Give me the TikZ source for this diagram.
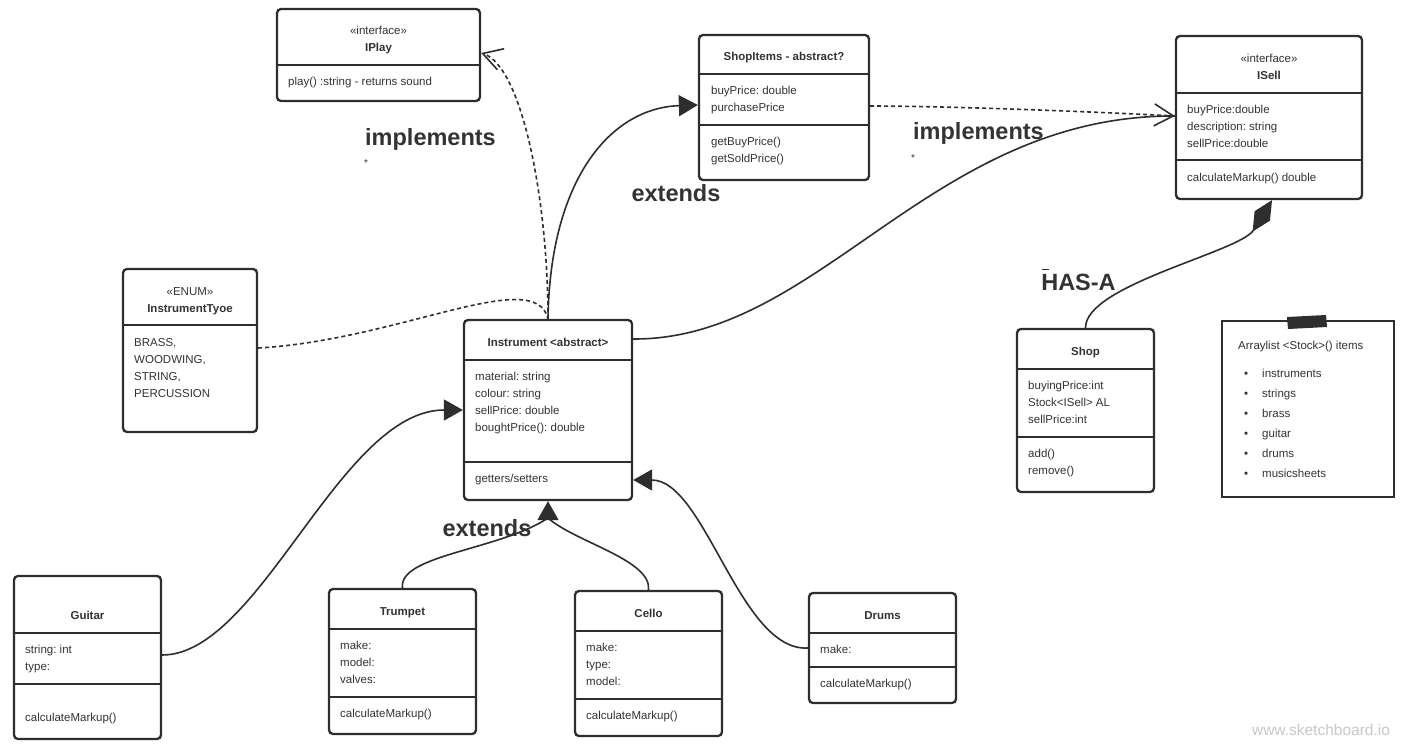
\documentclass[tikz,border=0pt]{standalone}
\usepackage{fontspec}
\setmainfont{Liberation Sans}
\usetikzlibrary{arrows.meta,calc}
\definecolor{ink}{HTML}{2E2E2E}
\definecolor{txtc}{HTML}{333333}
\definecolor{wm}{HTML}{C8C8C8}
\frenchspacing
\tikzset{
  umlbox/.style={draw=ink, line width=2.3pt, rounded corners=4pt, inner sep=0pt},
  notebox/.style={draw=ink, line width=2.3pt, inner sep=0pt},
  divline/.style={draw=ink, line width=1.8pt},
  txt/.style={anchor=base west, inner sep=0pt, text=txtc, font=\fontsize{11.5}{14}\selectfont},
  ttl/.style={anchor=base, inner sep=0pt, text=txtc, font=\bfseries\fontsize{11.5}{14}\selectfont},
  stereo/.style={anchor=base, inner sep=0pt, text=txtc, font=\fontsize{11.5}{14}\selectfont},
  biglbl/.style={anchor=base, inner sep=0pt, text=txtc, font=\bfseries\fontsize{23.5}{28}\selectfont},
  star/.style={anchor=base west, inner sep=0pt, text=txtc, font=\fontsize{10}{12}\selectfont},
  conn/.style={draw=ink, line width=1.6pt},
  dashconn/.style={conn, dash pattern=on 4pt off 3pt},
  gen/.style={-{Triangle[length=19pt,width=21pt]}},
  real/.style={-{Straight Barb[length=19pt,width=22pt,line width=1.6pt]}},
  comp/.style={-{Diamond[length=37pt,width=18pt]}},
}
\begin{document}
\begin{tikzpicture}[x=1pt,y=-1pt]
\useasboundingbox (0,0) rectangle (1408,750);
\fill[white] (0,0) rectangle (1408,750);

% ---------- IPlay ----------
\node[umlbox, minimum width=203pt, minimum height=92pt] (iplay) at (378.5,55) {};
\draw[divline] (iplay.west |- 0,65) -- (iplay.east |- 0,65);
\node[stereo] (iplayS) at (378.5,34) {«interface»};
\node[ttl] (iplayT) at (378.5,51) {IPlay};
\node[txt] (iplay1) at (288,85) {play() :string - returns sound};

% ---------- ShopItems ----------
\node[umlbox, minimum width=170pt, minimum height=145pt] (sitems) at (784,107.5) {};
\draw[divline] (sitems.west |- 0,74) -- (sitems.east |- 0,74);
\draw[divline] (sitems.west |- 0,125) -- (sitems.east |- 0,125);
\node[ttl] (sitemsT) at (784,60) {ShopItems - abstract?};
\node[txt] (si1) at (711,94) {buyPrice: double};
\node[txt] (si2) at (711,111) {purchasePrice};
\node[txt] (si3) at (711,145) {getBuyPrice()};
\node[txt] (si4) at (711,162) {getSoldPrice()};

% ---------- ISell ----------
\node[umlbox, minimum width=186pt, minimum height=163pt] (isell) at (1269,117.5) {};
\draw[divline] (isell.west |- 0,93) -- (isell.east |- 0,93);
\draw[divline] (isell.west |- 0,160) -- (isell.east |- 0,160);
\node[stereo] (isellS) at (1269,62) {«interface»};
\node[ttl] (isellT) at (1269,79) {ISell};
\node[txt] (is1) at (1187,113) {buyPrice:double};
\node[txt] (is2) at (1187,130) {description: string};
\node[txt] (is3) at (1187,147) {sellPrice:double};
\node[txt] (is4) at (1187,181) {calculateMarkup() double};

% ---------- InstrumentTyoe ----------
\node[umlbox, minimum width=134pt, minimum height=163pt] (enum) at (190,350.5) {};
\draw[divline] (enum.west |- 0,325) -- (enum.east |- 0,325);
\node[stereo] (enumS) at (190,295) {«ENUM»};
\node[ttl] (enumT) at (190,312) {InstrumentTyoe};
\node[txt] (en1) at (134,346) {BRASS,};
\node[txt] (en2) at (134,363) {WOODWING,};
\node[txt] (en3) at (134,380) {STRING,};
\node[txt] (en4) at (134,397) {PERCUSSION};

% ---------- Instrument ----------
\node[umlbox, minimum width=168pt, minimum height=180pt] (inst) at (548,410) {};
\draw[divline] (inst.west |- 0,360) -- (inst.east |- 0,360);
\draw[divline] (inst.west |- 0,462) -- (inst.east |- 0,462);
\node[ttl] (instT) at (548,346) {Instrument <abstract>};
\node[txt] (in1) at (475,380) {material: string};
\node[txt] (in2) at (475,397) {colour: string};
\node[txt] (in3) at (475,414) {sellPrice: double};
\node[txt] (in4) at (475,431) {boughtPrice(): double};
\node[txt] (in5) at (475,482) {getters/setters};

% ---------- Shop ----------
\node[umlbox, minimum width=137pt, minimum height=163pt] (shop) at (1085.5,410.5) {};
\draw[divline] (shop.west |- 0,369) -- (shop.east |- 0,369);
\draw[divline] (shop.west |- 0,437) -- (shop.east |- 0,437);
\node[ttl] (shopT) at (1085.5,355) {Shop};
\node[txt] (sh1) at (1028,389) {buyingPrice:int};
\node[txt] (sh2) at (1028,406) {Stock<ISell> AL};
\node[txt] (sh3) at (1028,423) {sellPrice:int};
\node[txt] (sh4) at (1028,457) {add()};
\node[txt] (sh5) at (1028,474) {remove()};

% ---------- Note ----------
\node[notebox, minimum width=172pt, minimum height=176pt] (note) at (1308,409) {};
\fill[ink] (1287,317) -- (1326,315) -- (1327,327) -- (1288,329) -- cycle;
\node[txt] (nt0) at (1238,349) {Arraylist <Stock>() items};
\foreach \t [count=\i] in {instruments,strings,brass,guitar,drums,musicsheets} {
  \node[txt] (ntb\i) at (1244,357+20*\i) {•};
  \node[txt] (nt\i) at (1262,357+20*\i) {\t};
}

% ---------- Guitar ----------
\node[umlbox, minimum width=147pt, minimum height=163pt] (guitar) at (87.5,657.5) {};
\draw[divline] (guitar.west |- 0,633) -- (guitar.east |- 0,633);
\draw[divline] (guitar.west |- 0,684) -- (guitar.east |- 0,684);
\node[ttl] (guitarT) at (87.5,619) {Guitar};
\node[txt] (gu1) at (25,653) {string: int};
\node[txt] (gu2) at (25,670) {type:};
\node[txt] (gu3) at (25,721) {calculateMarkup()};

% ---------- Trumpet ----------
\node[umlbox, minimum width=147pt, minimum height=145pt] (trumpet) at (402.5,661.5) {};
\draw[divline] (trumpet.west |- 0,629) -- (trumpet.east |- 0,629);
\draw[divline] (trumpet.west |- 0,697) -- (trumpet.east |- 0,697);
\node[ttl] (trumpetT) at (402.5,615) {Trumpet};
\node[txt] (tr1) at (340,649) {make:};
\node[txt] (tr2) at (340,666) {model:};
\node[txt] (tr3) at (340,683) {valves:};
\node[txt] (tr4) at (340,717) {calculateMarkup()};

% ---------- Cello ----------
\node[umlbox, minimum width=147pt, minimum height=145pt] (cello) at (648.5,663.5) {};
\draw[divline] (cello.west |- 0,631) -- (cello.east |- 0,631);
\draw[divline] (cello.west |- 0,699) -- (cello.east |- 0,699);
\node[ttl] (celloT) at (648.5,617) {Cello};
\node[txt] (ce1) at (586,651) {make:};
\node[txt] (ce2) at (586,668) {type:};
\node[txt] (ce3) at (586,685) {model:};
\node[txt] (ce4) at (586,719) {calculateMarkup()};

% ---------- Drums ----------
\node[umlbox, minimum width=147pt, minimum height=110pt] (drums) at (882.5,648) {};
\draw[divline] (drums.west |- 0,633) -- (drums.east |- 0,633);
\draw[divline] (drums.west |- 0,667) -- (drums.east |- 0,667);
\node[ttl] (drumsT) at (882.5,619) {Drums};
\node[txt] (dr1) at (820,653) {make:};
\node[txt] (dr2) at (820,687) {calculateMarkup()};

% ---------- Connectors ----------
% Instrument -> IPlay (realization)
\draw[dashconn, real] (inst.north) .. controls (548,200) and (522,66) .. (iplay.east |- 0,53);
% Enum -> Instrument (dashed)
\draw[dashconn] (enum.east |- 0,348) .. controls (400,340) and (535,265) .. (inst.north);
% Instrument -> ShopItems (generalization)
\draw[conn, gen] (inst.north) .. controls (550,180) and (610,108) .. (sitems.west |- 0,105);
% ShopItems -> ISell (realization)
\draw[dashconn, real] (sitems.east |- 0,106) .. controls (950,106) and (1100,112) .. (isell.west |- 0,116);
% Instrument -> ISell
\draw[conn] (inst.east |- 0,339) .. controls (820,340) and (930,115) .. (isell.west |- 0,116);
% Shop -> ISell (composition)
\draw[conn, comp] (shop.north) .. controls (1085,285) and (1240,252) .. (1272,0 |- isell.south);
% Guitar -> Instrument
\draw[conn, gen] (guitar.east |- 0,655) .. controls (260,655) and (340,410) .. (inst.west |- 0,410);
% Trumpet, Cello -> Instrument
\coordinate (joint) at (548,518);
\draw[conn] (trumpet.north) .. controls (398,555) and (500,550) .. (joint);
\draw[conn] (cello.north) .. controls (652,560) and (575,542) .. (joint);
\draw[conn, gen] (joint) -- (inst.south);
% Drums -> Instrument
\draw[conn, gen] (drums.west |- 0,648) .. controls (740,652) and (705,480) .. (inst.east |- 0,480);

% ---------- Labels ----------
\node[biglbl] (lblImp1) at (430.5,145) {implements};
\node[star] (star1) at (364,166) {*};
\node[biglbl] (lblExt1) at (676,201) {extends};
\node[biglbl] (lblImp2) at (978.5,139) {implements};
\node[star] (star2) at (911,161) {*};
\node[biglbl] (lblExt2) at (487,536) {extends};
\node[biglbl] (lblHas) at (1078.5,290) {HAS-A};
\draw[ink, line width=1pt] (1042,269) -- (1049,269);

% watermark
\node[anchor=base, inner sep=0pt, text=wm, font=\fontsize{15.5}{18}\selectfont] (wmark) at (1321,735) {www.sketchboard.io};
\end{tikzpicture}
\end{document}
